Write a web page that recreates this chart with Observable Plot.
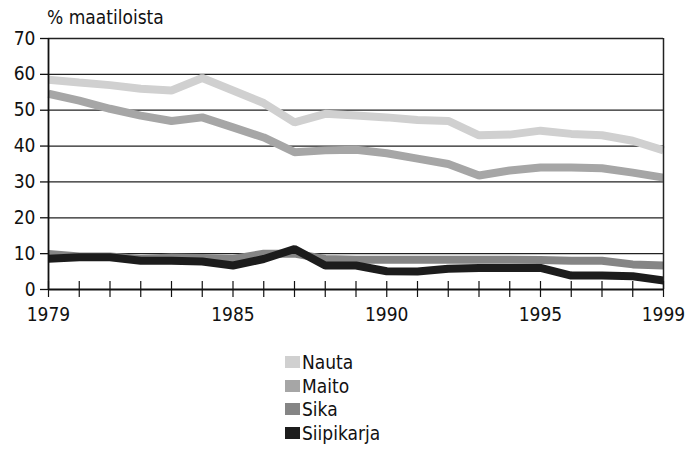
<!DOCTYPE html>
<html>
<head>
<meta charset="utf-8">
<script src="https://cdn.jsdelivr.net/npm/d3@7"></script>
<script src="https://cdn.jsdelivr.net/npm/@observablehq/plot@0.6"></script>
<style>
  html, body { margin: 0; padding: 0; background: #fff; }
  body { width: 696px; height: 451px; position: relative; overflow: hidden;
         font-family: "DejaVu Sans", sans-serif; font-stretch: condensed; color: #111; }
  svg, svg text { font-stretch: condensed; }
  #title { position: absolute; left: 47px; top: 6px; font-size: 19px; line-height: 22px; z-index: 2; }
  #chart { position: absolute; left: 0; top: 18px; z-index: 1; }
  #legend { position: absolute; left: 285px; top: 350px; font-size: 19px; }
  .item { display: flex; align-items: center; height: 23.7px; }
  .sw { width: 15px; height: 12px; margin-right: 2px; }
</style>
</head>
<body>
<div id="title">% maatiloista</div>
<div id="chart"></div>
<div id="legend"></div>
<script>
const years = [1979,1980,1981,1982,1983,1984,1985,1986,1987,1988,1989,1990,1991,1992,1993,1994,1995,1996,1997,1998,1999];
const nauta = [58.5,57.7,57,56,55.5,59,55.5,52,46.6,49,48.5,48,47.3,47,43,43.2,44.3,43.4,43,41.5,38.8];
const maito = [54.6,52.7,50.4,48.5,47,48,45.2,42.4,38.3,38.8,39,38,36.5,35,31.8,33.2,34,34,33.8,32.6,31.2];
const sika = [9.9,9.2,9.2,8.5,8.9,8.8,8.5,10,10,8.5,8.3,8.3,8.3,8.3,8.3,8.3,8.2,8,8,7,6.7];
const siipikarja = [8.6,9,9,8,8,7.8,6.7,8.5,11.3,6.7,6.7,5.1,5,5.8,6,6,6,3.9,3.9,3.7,2.5];
const seriesNames = ["Nauta","Maito","Sika","Siipikarja"];
const seriesColors = ["#d0d0d0","#a6a6a6","#858585","#1c1c1c"];
const yTicks = [0,10,20,30,40,50,60,70];
const xLabelTicks = [1979,1985,1990,1995,1999];

const seriesValues = [nauta, maito, sika, siipikarja];
const data = [];
seriesNames.forEach((s, k) => years.forEach((yr, i) => data.push({series: s, year: yr, value: seriesValues[k][i]})));

const font = '"DejaVu Sans", sans-serif';

const chart = Plot.plot({
  width: 696,
  height: 312,
  marginTop: 20,
  marginBottom: 41,
  marginLeft: 48,
  marginRight: 33,
  style: {fontFamily: font, fontSize: "19px", color: "#111", background: "transparent"},
  x: {domain: [1979, 1999], label: null},
  y: {domain: [0, 70], label: null},
  color: {domain: seriesNames, range: seriesColors},
  marks: [
    Plot.ruleY(yTicks.filter(d => d > 0), {stroke: "#222", strokeWidth: 1.3}),
    ...seriesNames.map(s => Plot.line(data.filter(d => d.series === s), {
      x: "year", y: "value", stroke: "series", strokeWidth: 8, strokeLinejoin: "miter", strokeLinecap: "butt"
    })),
    Plot.ruleY([0], {stroke: "#111", strokeWidth: 1.8}),
    Plot.ruleX([1979], {stroke: "#111", strokeWidth: 1.8}),
    Plot.ruleX([1999], {stroke: "#222", strokeWidth: 1.5}),
    Plot.ruleX(years, {x: d => d, y1: 0, y2: 0, insetTop: -8, insetBottom: -8, stroke: "#111", strokeWidth: 1.2}),
    Plot.axisY({ticks: yTicks, tickSize: 8, tickPadding: 5, stroke: "#111", strokeWidth: 1.3, fontSize: 19}),
    Plot.axisX({ticks: xLabelTicks, tickSize: 0, tickPadding: 18, tickFormat: d => String(d), fontSize: 19})
  ]
});
document.getElementById("chart").appendChild(chart);

const legend = document.getElementById("legend");
seriesNames.forEach((s, i) => {
  const item = document.createElement("div");
  item.className = "item";
  const sw = document.createElement("div");
  sw.className = "sw";
  sw.style.background = seriesColors[i];
  const label = document.createElement("span");
  label.textContent = s;
  item.appendChild(sw);
  item.appendChild(label);
  legend.appendChild(item);
});
</script>
</body>
</html>
